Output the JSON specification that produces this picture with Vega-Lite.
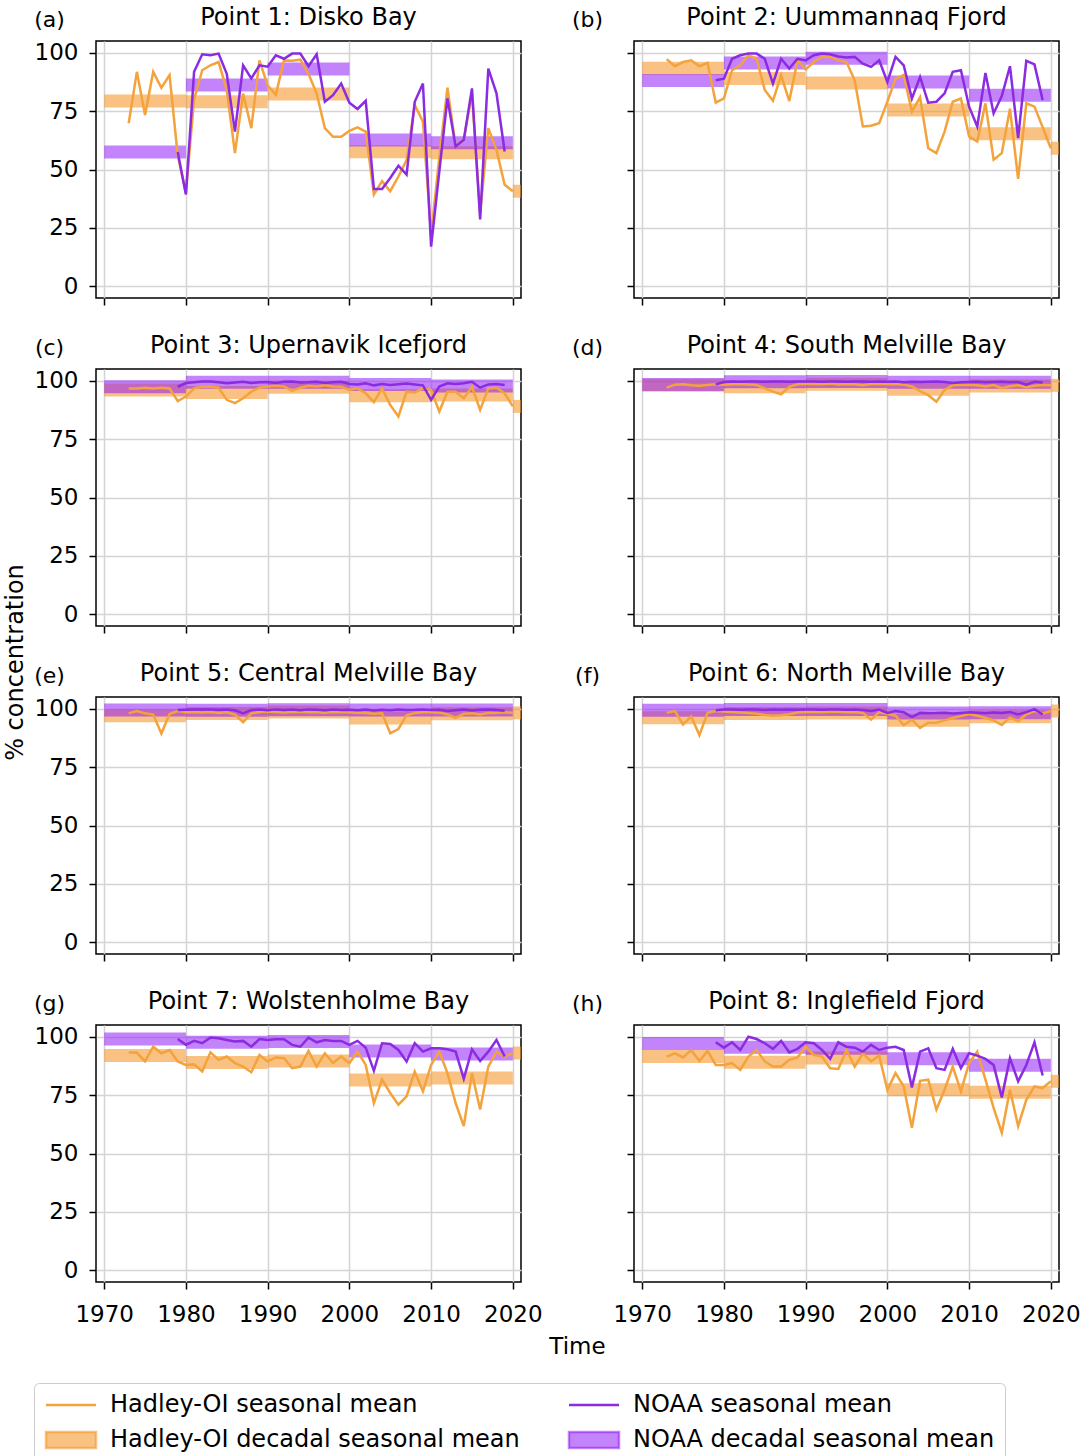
{
"$schema": "https://vega.github.io/schema/vega-lite/v6.json",
"background": "white",
"padding": {"left": 2, "top": 5, "right": 5, "bottom": 0},
"datasets": {
"hadley": [
{"panel":"a","year":1973,"value":69.8},{"panel":"a","year":1974,"value":91.8},{"panel":"a","year":1975,"value":73.3},{"panel":"a","year":1976,"value":91.8},{"panel":"a","year":1977,"value":85},{"panel":"a","year":1978,"value":90.4},{"panel":"a","year":1979,"value":56},{"panel":"a","year":1980,"value":40},{"panel":"a","year":1981,"value":80},{"panel":"a","year":1982,"value":92.5},{"panel":"a","year":1983,"value":94.6},{"panel":"a","year":1984,"value":96},{"panel":"a","year":1985,"value":84},{"panel":"a","year":1986,"value":57},{"panel":"a","year":1987,"value":82.5},{"panel":"a","year":1988,"value":67.7},{"panel":"a","year":1989,"value":96.7},{"panel":"a","year":1990,"value":86},{"panel":"a","year":1991,"value":82},{"panel":"a","year":1992,"value":96.7},{"panel":"a","year":1993,"value":96.5},{"panel":"a","year":1994,"value":97},{"panel":"a","year":1995,"value":91},{"panel":"a","year":1996,"value":82.5},{"panel":"a","year":1997,"value":67.7},{"panel":"a","year":1998,"value":64},{"panel":"a","year":1999,"value":64},{"panel":"a","year":2000,"value":66.5},{"panel":"a","year":2001,"value":68},{"panel":"a","year":2002,"value":66.2},{"panel":"a","year":2003,"value":39.3},{"panel":"a","year":2004,"value":45},{"panel":"a","year":2005,"value":40.7},{"panel":"a","year":2006,"value":47},{"panel":"a","year":2007,"value":54},{"panel":"a","year":2008,"value":77.6},{"panel":"a","year":2009,"value":70.5},{"panel":"a","year":2010,"value":22},{"panel":"a","year":2011,"value":55},{"panel":"a","year":2012,"value":85},{"panel":"a","year":2013,"value":60},{"panel":"a","year":2014,"value":62.7},{"panel":"a","year":2015,"value":82.6},{"panel":"a","year":2016,"value":31},{"panel":"a","year":2017,"value":67.7},{"panel":"a","year":2018,"value":58.4},{"panel":"a","year":2019,"value":43.5},{"panel":"a","year":2020,"value":40.7},
{"panel":"b","year":1973,"value":97.2},{"panel":"b","year":1974,"value":94.2},{"panel":"b","year":1975,"value":96},{"panel":"b","year":1976,"value":96.7},{"panel":"b","year":1977,"value":94.2},{"panel":"b","year":1978,"value":95.6},{"panel":"b","year":1979,"value":78.6},{"panel":"b","year":1980,"value":80.4},{"panel":"b","year":1981,"value":92.5},{"panel":"b","year":1982,"value":94.6},{"panel":"b","year":1983,"value":98.9},{"panel":"b","year":1984,"value":97.4},{"panel":"b","year":1985,"value":84},{"panel":"b","year":1986,"value":79.4},{"panel":"b","year":1987,"value":90.4},{"panel":"b","year":1988,"value":79.3},{"panel":"b","year":1989,"value":96.7},{"panel":"b","year":1990,"value":92.8},{"panel":"b","year":1991,"value":96},{"panel":"b","year":1992,"value":98.2},{"panel":"b","year":1993,"value":98.2},{"panel":"b","year":1994,"value":96.7},{"panel":"b","year":1995,"value":96},{"panel":"b","year":1996,"value":88.2},{"panel":"b","year":1997,"value":68.4},{"panel":"b","year":1998,"value":68.7},{"panel":"b","year":1999,"value":69.8},{"panel":"b","year":2000,"value":79},{"panel":"b","year":2001,"value":88.9},{"panel":"b","year":2002,"value":90.4},{"panel":"b","year":2003,"value":74.8},{"panel":"b","year":2004,"value":80.9},{"panel":"b","year":2005,"value":59.1},{"panel":"b","year":2006,"value":57},{"panel":"b","year":2007,"value":66.2},{"panel":"b","year":2008,"value":79},{"panel":"b","year":2009,"value":80.4},{"panel":"b","year":2010,"value":64.1},{"panel":"b","year":2011,"value":62},{"panel":"b","year":2012,"value":78.3},{"panel":"b","year":2013,"value":54.2},{"panel":"b","year":2014,"value":57},{"panel":"b","year":2015,"value":76},{"panel":"b","year":2016,"value":46},{"panel":"b","year":2017,"value":78.3},{"panel":"b","year":2018,"value":76.9},{"panel":"b","year":2019,"value":68.1},{"panel":"b","year":2020,"value":59.1},
{"panel":"c","year":1973,"value":96.7},{"panel":"c","year":1974,"value":96.7},{"panel":"c","year":1975,"value":97},{"panel":"c","year":1976,"value":96.7},{"panel":"c","year":1977,"value":97},{"panel":"c","year":1978,"value":96.7},{"panel":"c","year":1979,"value":91.3},{"panel":"c","year":1980,"value":93.2},{"panel":"c","year":1981,"value":96.7},{"panel":"c","year":1982,"value":97.4},{"panel":"c","year":1983,"value":97.4},{"panel":"c","year":1984,"value":97},{"panel":"c","year":1985,"value":91.8},{"panel":"c","year":1986,"value":90.4},{"panel":"c","year":1987,"value":92.5},{"panel":"c","year":1988,"value":95.3},{"panel":"c","year":1989,"value":97},{"panel":"c","year":1990,"value":97.5},{"panel":"c","year":1991,"value":97.8},{"panel":"c","year":1992,"value":97.5},{"panel":"c","year":1993,"value":95.6},{"panel":"c","year":1994,"value":97},{"panel":"c","year":1995,"value":97.8},{"panel":"c","year":1996,"value":97.5},{"panel":"c","year":1997,"value":98},{"panel":"c","year":1998,"value":97.5},{"panel":"c","year":1999,"value":97.4},{"panel":"c","year":2000,"value":96},{"panel":"c","year":2001,"value":96.7},{"panel":"c","year":2002,"value":94.6},{"panel":"c","year":2003,"value":90.8},{"panel":"c","year":2004,"value":96.7},{"panel":"c","year":2005,"value":89.6},{"panel":"c","year":2006,"value":84.7},{"panel":"c","year":2007,"value":95.3},{"panel":"c","year":2008,"value":95},{"panel":"c","year":2009,"value":96.7},{"panel":"c","year":2010,"value":96},{"panel":"c","year":2011,"value":86.8},{"panel":"c","year":2012,"value":95.3},{"panel":"c","year":2013,"value":95.3},{"panel":"c","year":2014,"value":92.5},{"panel":"c","year":2015,"value":97.4},{"panel":"c","year":2016,"value":87.5},{"panel":"c","year":2017,"value":96.7},{"panel":"c","year":2018,"value":97},{"panel":"c","year":2019,"value":94.6},{"panel":"c","year":2020,"value":89},
{"panel":"d","year":1973,"value":97},{"panel":"d","year":1974,"value":98.3},{"panel":"d","year":1975,"value":98.5},{"panel":"d","year":1976,"value":98},{"panel":"d","year":1977,"value":97.8},{"panel":"d","year":1978,"value":98.2},{"panel":"d","year":1979,"value":98.5},{"panel":"d","year":1980,"value":98.3},{"panel":"d","year":1981,"value":98.5},{"panel":"d","year":1982,"value":98.6},{"panel":"d","year":1983,"value":98.4},{"panel":"d","year":1984,"value":98.2},{"panel":"d","year":1985,"value":96.7},{"panel":"d","year":1986,"value":95.3},{"panel":"d","year":1987,"value":94.2},{"panel":"d","year":1988,"value":97.4},{"panel":"d","year":1989,"value":98.5},{"panel":"d","year":1990,"value":98.6},{"panel":"d","year":1991,"value":98.7},{"panel":"d","year":1992,"value":98.5},{"panel":"d","year":1993,"value":98.8},{"panel":"d","year":1994,"value":98.4},{"panel":"d","year":1995,"value":98.6},{"panel":"d","year":1996,"value":98.5},{"panel":"d","year":1997,"value":98},{"panel":"d","year":1998,"value":98.6},{"panel":"d","year":1999,"value":98.7},{"panel":"d","year":2000,"value":98.5},{"panel":"d","year":2001,"value":98.6},{"panel":"d","year":2002,"value":98.3},{"panel":"d","year":2003,"value":97.5},{"panel":"d","year":2004,"value":95.5},{"panel":"d","year":2005,"value":93.8},{"panel":"d","year":2006,"value":91},{"panel":"d","year":2007,"value":96},{"panel":"d","year":2008,"value":98},{"panel":"d","year":2009,"value":98.2},{"panel":"d","year":2010,"value":98.2},{"panel":"d","year":2011,"value":98},{"panel":"d","year":2012,"value":97.5},{"panel":"d","year":2013,"value":98.1},{"panel":"d","year":2014,"value":96.8},{"panel":"d","year":2015,"value":97.6},{"panel":"d","year":2016,"value":98},{"panel":"d","year":2017,"value":97.2},{"panel":"d","year":2018,"value":97.8},{"panel":"d","year":2019,"value":98.2},{"panel":"d","year":2020,"value":98},
{"panel":"e","year":1973,"value":98},{"panel":"e","year":1974,"value":99},{"panel":"e","year":1975,"value":98},{"panel":"e","year":1976,"value":97.5},{"panel":"e","year":1977,"value":89.4},{"panel":"e","year":1978,"value":97.7},{"panel":"e","year":1979,"value":99},{"panel":"e","year":1980,"value":98.5},{"panel":"e","year":1981,"value":98.6},{"panel":"e","year":1982,"value":98.4},{"panel":"e","year":1983,"value":98.6},{"panel":"e","year":1984,"value":98.2},{"panel":"e","year":1985,"value":98.5},{"panel":"e","year":1986,"value":97.5},{"panel":"e","year":1987,"value":94.2},{"panel":"e","year":1988,"value":98},{"panel":"e","year":1989,"value":98.6},{"panel":"e","year":1990,"value":98.8},{"panel":"e","year":1991,"value":98.6},{"panel":"e","year":1992,"value":98.4},{"panel":"e","year":1993,"value":98.6},{"panel":"e","year":1994,"value":98.7},{"panel":"e","year":1995,"value":98.5},{"panel":"e","year":1996,"value":98.6},{"panel":"e","year":1997,"value":98.3},{"panel":"e","year":1998,"value":98.6},{"panel":"e","year":1999,"value":98.5},{"panel":"e","year":2000,"value":98.5},{"panel":"e","year":2001,"value":98.3},{"panel":"e","year":2002,"value":98.2},{"panel":"e","year":2003,"value":97.8},{"panel":"e","year":2004,"value":98},{"panel":"e","year":2005,"value":89.5},{"panel":"e","year":2006,"value":91.3},{"panel":"e","year":2007,"value":97.2},{"panel":"e","year":2008,"value":98.2},{"panel":"e","year":2009,"value":98.5},{"panel":"e","year":2010,"value":98.5},{"panel":"e","year":2011,"value":98.3},{"panel":"e","year":2012,"value":97.5},{"panel":"e","year":2013,"value":96.1},{"panel":"e","year":2014,"value":97.8},{"panel":"e","year":2015,"value":98},{"panel":"e","year":2016,"value":97.5},{"panel":"e","year":2017,"value":98.2},{"panel":"e","year":2018,"value":98.3},{"panel":"e","year":2019,"value":98.5},{"panel":"e","year":2020,"value":98.2},
{"panel":"f","year":1973,"value":98.2},{"panel":"f","year":1974,"value":99},{"panel":"f","year":1975,"value":93.2},{"panel":"f","year":1976,"value":96.7},{"panel":"f","year":1977,"value":88.7},{"panel":"f","year":1978,"value":98.2},{"panel":"f","year":1979,"value":99},{"panel":"f","year":1980,"value":98.8},{"panel":"f","year":1981,"value":98.6},{"panel":"f","year":1982,"value":98.4},{"panel":"f","year":1983,"value":98.2},{"panel":"f","year":1984,"value":97.8},{"panel":"f","year":1985,"value":97.3},{"panel":"f","year":1986,"value":97},{"panel":"f","year":1987,"value":97.2},{"panel":"f","year":1988,"value":97.6},{"panel":"f","year":1989,"value":98.4},{"panel":"f","year":1990,"value":98.6},{"panel":"f","year":1991,"value":98.7},{"panel":"f","year":1992,"value":98.5},{"panel":"f","year":1993,"value":98.8},{"panel":"f","year":1994,"value":98.7},{"panel":"f","year":1995,"value":98.5},{"panel":"f","year":1996,"value":98.6},{"panel":"f","year":1997,"value":98.2},{"panel":"f","year":1998,"value":95.3},{"panel":"f","year":1999,"value":98.5},{"panel":"f","year":2000,"value":97.8},{"panel":"f","year":2001,"value":97},{"panel":"f","year":2002,"value":93},{"panel":"f","year":2003,"value":95.3},{"panel":"f","year":2004,"value":91.8},{"panel":"f","year":2005,"value":94},{"panel":"f","year":2006,"value":94},{"panel":"f","year":2007,"value":95},{"panel":"f","year":2008,"value":96},{"panel":"f","year":2009,"value":96.8},{"panel":"f","year":2010,"value":97.7},{"panel":"f","year":2011,"value":97},{"panel":"f","year":2012,"value":96},{"panel":"f","year":2013,"value":95},{"panel":"f","year":2014,"value":93},{"panel":"f","year":2015,"value":96.2},{"panel":"f","year":2016,"value":94.6},{"panel":"f","year":2017,"value":97.6},{"panel":"f","year":2018,"value":99},{"panel":"f","year":2019,"value":98},{"panel":"f","year":2020,"value":99},
{"panel":"g","year":1973,"value":93.2},{"panel":"g","year":1974,"value":93.2},{"panel":"g","year":1975,"value":89.4},{"panel":"g","year":1976,"value":95.7},{"panel":"g","year":1977,"value":92.9},{"panel":"g","year":1978,"value":94.3},{"panel":"g","year":1979,"value":89.4},{"panel":"g","year":1980,"value":87.9},{"panel":"g","year":1981,"value":88.2},{"panel":"g","year":1982,"value":85.1},{"panel":"g","year":1983,"value":93.3},{"panel":"g","year":1984,"value":90.1},{"panel":"g","year":1985,"value":91.5},{"panel":"g","year":1986,"value":88.7},{"panel":"g","year":1987,"value":87.2},{"panel":"g","year":1988,"value":84.8},{"panel":"g","year":1989,"value":92.2},{"panel":"g","year":1990,"value":89.4},{"panel":"g","year":1991,"value":91.1},{"panel":"g","year":1992,"value":90.8},{"panel":"g","year":1993,"value":86.5},{"panel":"g","year":1994,"value":87.2},{"panel":"g","year":1995,"value":93.9},{"panel":"g","year":1996,"value":87.2},{"panel":"g","year":1997,"value":92.9},{"panel":"g","year":1998,"value":88.7},{"panel":"g","year":1999,"value":91.5},{"panel":"g","year":2000,"value":88.7},{"panel":"g","year":2001,"value":93.6},{"panel":"g","year":2002,"value":87.9},{"panel":"g","year":2003,"value":71.6},{"panel":"g","year":2004,"value":81.6},{"panel":"g","year":2005,"value":75.9},{"panel":"g","year":2006,"value":70.9},{"panel":"g","year":2007,"value":74.5},{"panel":"g","year":2008,"value":85.1},{"panel":"g","year":2009,"value":76.6},{"panel":"g","year":2010,"value":87.9},{"panel":"g","year":2011,"value":93.6},{"panel":"g","year":2012,"value":84.4},{"panel":"g","year":2013,"value":71.6},{"panel":"g","year":2014,"value":61.7},{"panel":"g","year":2015,"value":84.4},{"panel":"g","year":2016,"value":68.8},{"panel":"g","year":2017,"value":87.2},{"panel":"g","year":2018,"value":93.6},{"panel":"g","year":2019,"value":91.5},{"panel":"g","year":2020,"value":93},
{"panel":"h","year":1973,"value":91.5},{"panel":"h","year":1974,"value":92.9},{"panel":"h","year":1975,"value":91.1},{"panel":"h","year":1976,"value":94.3},{"panel":"h","year":1977,"value":89.6},{"panel":"h","year":1978,"value":93.9},{"panel":"h","year":1979,"value":87.9},{"panel":"h","year":1980,"value":87.9},{"panel":"h","year":1981,"value":88.7},{"panel":"h","year":1982,"value":85.8},{"panel":"h","year":1983,"value":91.5},{"panel":"h","year":1984,"value":94.3},{"panel":"h","year":1985,"value":89.4},{"panel":"h","year":1986,"value":87.2},{"panel":"h","year":1987,"value":87.2},{"panel":"h","year":1988,"value":90.1},{"panel":"h","year":1989,"value":91.1},{"panel":"h","year":1990,"value":95.7},{"panel":"h","year":1991,"value":92.2},{"panel":"h","year":1992,"value":91.5},{"panel":"h","year":1993,"value":86.5},{"panel":"h","year":1994,"value":86.2},{"panel":"h","year":1995,"value":94.3},{"panel":"h","year":1996,"value":87.2},{"panel":"h","year":1997,"value":92.9},{"panel":"h","year":1998,"value":89.4},{"panel":"h","year":1999,"value":91.9},{"panel":"h","year":2000,"value":77.3},{"panel":"h","year":2001,"value":84.4},{"panel":"h","year":2002,"value":78.7},{"panel":"h","year":2003,"value":61},{"panel":"h","year":2004,"value":81.1},{"panel":"h","year":2005,"value":81.6},{"panel":"h","year":2006,"value":68.8},{"panel":"h","year":2007,"value":77.3},{"panel":"h","year":2008,"value":87.2},{"panel":"h","year":2009,"value":76.6},{"panel":"h","year":2010,"value":88.7},{"panel":"h","year":2011,"value":93.6},{"panel":"h","year":2012,"value":81.6},{"panel":"h","year":2013,"value":69.5},{"panel":"h","year":2014,"value":58.9},{"panel":"h","year":2015,"value":77.3},{"panel":"h","year":2016,"value":61.7},{"panel":"h","year":2017,"value":73},{"panel":"h","year":2018,"value":78.7},{"panel":"h","year":2019,"value":78},{"panel":"h","year":2020,"value":80.9}
],
"noaa": [
{"panel":"a","year":1979,"value":57.5},{"panel":"a","year":1980,"value":39.3},{"panel":"a","year":1981,"value":91.8},{"panel":"a","year":1982,"value":99.3},{"panel":"a","year":1983,"value":98.9},{"panel":"a","year":1984,"value":99.6},{"panel":"a","year":1985,"value":91},{"panel":"a","year":1986,"value":66.2},{"panel":"a","year":1987,"value":94.6},{"panel":"a","year":1988,"value":89},{"panel":"a","year":1989,"value":94.6},{"panel":"a","year":1990,"value":94},{"panel":"a","year":1991,"value":98.9},{"panel":"a","year":1992,"value":97.4},{"panel":"a","year":1993,"value":99.6},{"panel":"a","year":1994,"value":99.6},{"panel":"a","year":1995,"value":94.2},{"panel":"a","year":1996,"value":99.3},{"panel":"a","year":1997,"value":79},{"panel":"a","year":1998,"value":81.8},{"panel":"a","year":1999,"value":86.8},{"panel":"a","year":2000,"value":78.6},{"panel":"a","year":2001,"value":75.9},{"panel":"a","year":2002,"value":79.4},{"panel":"a","year":2003,"value":41.7},{"panel":"a","year":2004,"value":41.7},{"panel":"a","year":2005,"value":46.4},{"panel":"a","year":2006,"value":51.6},{"panel":"a","year":2007,"value":47.8},{"panel":"a","year":2008,"value":79},{"panel":"a","year":2009,"value":86.8},{"panel":"a","year":2010,"value":17},{"panel":"a","year":2011,"value":49},{"panel":"a","year":2012,"value":80.4},{"panel":"a","year":2013,"value":59.9},{"panel":"a","year":2014,"value":62.7},{"panel":"a","year":2015,"value":84.7},{"panel":"a","year":2016,"value":28.6},{"panel":"a","year":2017,"value":93.2},{"panel":"a","year":2018,"value":82.6},{"panel":"a","year":2019,"value":57.7},
{"panel":"b","year":1979,"value":88.2},{"panel":"b","year":1980,"value":88.9},{"panel":"b","year":1981,"value":97.4},{"panel":"b","year":1982,"value":98.9},{"panel":"b","year":1983,"value":99.6},{"panel":"b","year":1984,"value":99.6},{"panel":"b","year":1985,"value":97.4},{"panel":"b","year":1986,"value":86.8},{"panel":"b","year":1987,"value":97.4},{"panel":"b","year":1988,"value":93.2},{"panel":"b","year":1989,"value":97.4},{"panel":"b","year":1990,"value":96.7},{"panel":"b","year":1991,"value":98.9},{"panel":"b","year":1992,"value":99.6},{"panel":"b","year":1993,"value":99.3},{"panel":"b","year":1994,"value":98.4},{"panel":"b","year":1995,"value":97.9},{"panel":"b","year":1996,"value":98.2},{"panel":"b","year":1997,"value":95.3},{"panel":"b","year":1998,"value":93.9},{"panel":"b","year":1999,"value":96.7},{"panel":"b","year":2000,"value":87.5},{"panel":"b","year":2001,"value":98.2},{"panel":"b","year":2002,"value":94.6},{"panel":"b","year":2003,"value":80.4},{"panel":"b","year":2004,"value":89.6},{"panel":"b","year":2005,"value":78.6},{"panel":"b","year":2006,"value":79},{"panel":"b","year":2007,"value":82.6},{"panel":"b","year":2008,"value":91.8},{"panel":"b","year":2009,"value":92.5},{"panel":"b","year":2010,"value":76.9},{"panel":"b","year":2011,"value":68.4},{"panel":"b","year":2012,"value":91.3},{"panel":"b","year":2013,"value":74},{"panel":"b","year":2014,"value":81.4},{"panel":"b","year":2015,"value":94.2},{"panel":"b","year":2016,"value":63.4},{"panel":"b","year":2017,"value":96.5},{"panel":"b","year":2018,"value":95},{"panel":"b","year":2019,"value":79.7},
{"panel":"c","year":1979,"value":97.4},{"panel":"c","year":1980,"value":99},{"panel":"c","year":1981,"value":99.3},{"panel":"c","year":1982,"value":99.6},{"panel":"c","year":1983,"value":99.6},{"panel":"c","year":1984,"value":99.3},{"panel":"c","year":1985,"value":98.9},{"panel":"c","year":1986,"value":99.2},{"panel":"c","year":1987,"value":99.5},{"panel":"c","year":1988,"value":99},{"panel":"c","year":1989,"value":99.3},{"panel":"c","year":1990,"value":99.4},{"panel":"c","year":1991,"value":99},{"panel":"c","year":1992,"value":99.5},{"panel":"c","year":1993,"value":99.6},{"panel":"c","year":1994,"value":99.2},{"panel":"c","year":1995,"value":99.3},{"panel":"c","year":1996,"value":99.5},{"panel":"c","year":1997,"value":99},{"panel":"c","year":1998,"value":99.3},{"panel":"c","year":1999,"value":99.5},{"panel":"c","year":2000,"value":98.6},{"panel":"c","year":2001,"value":98.4},{"panel":"c","year":2002,"value":98.9},{"panel":"c","year":2003,"value":98},{"panel":"c","year":2004,"value":98.6},{"panel":"c","year":2005,"value":98.2},{"panel":"c","year":2006,"value":98.5},{"panel":"c","year":2007,"value":98.8},{"panel":"c","year":2008,"value":98.4},{"panel":"c","year":2009,"value":98},{"panel":"c","year":2010,"value":91.8},{"panel":"c","year":2011,"value":97.5},{"panel":"c","year":2012,"value":98.9},{"panel":"c","year":2013,"value":98.6},{"panel":"c","year":2014,"value":98.9},{"panel":"c","year":2015,"value":99.5},{"panel":"c","year":2016,"value":97},{"panel":"c","year":2017,"value":98.4},{"panel":"c","year":2018,"value":98.6},{"panel":"c","year":2019,"value":98.2},
{"panel":"d","year":1979,"value":98.4},{"panel":"d","year":1980,"value":99.4},{"panel":"d","year":1981,"value":99.6},{"panel":"d","year":1982,"value":99.5},{"panel":"d","year":1983,"value":99.7},{"panel":"d","year":1984,"value":99.6},{"panel":"d","year":1985,"value":99.5},{"panel":"d","year":1986,"value":99.7},{"panel":"d","year":1987,"value":99.6},{"panel":"d","year":1988,"value":99.5},{"panel":"d","year":1989,"value":99.6},{"panel":"d","year":1990,"value":99.7},{"panel":"d","year":1991,"value":99.6},{"panel":"d","year":1992,"value":99.5},{"panel":"d","year":1993,"value":99.7},{"panel":"d","year":1994,"value":99.6},{"panel":"d","year":1995,"value":99.5},{"panel":"d","year":1996,"value":99.6},{"panel":"d","year":1997,"value":99.7},{"panel":"d","year":1998,"value":99.5},{"panel":"d","year":1999,"value":99.6},{"panel":"d","year":2000,"value":99.5},{"panel":"d","year":2001,"value":99.6},{"panel":"d","year":2002,"value":99.3},{"panel":"d","year":2003,"value":99.5},{"panel":"d","year":2004,"value":99.4},{"panel":"d","year":2005,"value":99.5},{"panel":"d","year":2006,"value":99.6},{"panel":"d","year":2007,"value":99.4},{"panel":"d","year":2008,"value":99},{"panel":"d","year":2009,"value":99.3},{"panel":"d","year":2010,"value":99.4},{"panel":"d","year":2011,"value":99.5},{"panel":"d","year":2012,"value":99.3},{"panel":"d","year":2013,"value":99.4},{"panel":"d","year":2014,"value":99.5},{"panel":"d","year":2015,"value":99.3},{"panel":"d","year":2016,"value":99.4},{"panel":"d","year":2017,"value":98.3},{"panel":"d","year":2018,"value":99.5},{"panel":"d","year":2019,"value":99.2},
{"panel":"e","year":1979,"value":99.4},{"panel":"e","year":1980,"value":99.5},{"panel":"e","year":1981,"value":99.6},{"panel":"e","year":1982,"value":99.7},{"panel":"e","year":1983,"value":99.6},{"panel":"e","year":1984,"value":99.5},{"panel":"e","year":1985,"value":99.6},{"panel":"e","year":1986,"value":99.3},{"panel":"e","year":1987,"value":98},{"panel":"e","year":1988,"value":99.4},{"panel":"e","year":1989,"value":99.6},{"panel":"e","year":1990,"value":99.3},{"panel":"e","year":1991,"value":99.7},{"panel":"e","year":1992,"value":99.4},{"panel":"e","year":1993,"value":99.6},{"panel":"e","year":1994,"value":99.3},{"panel":"e","year":1995,"value":99.7},{"panel":"e","year":1996,"value":99.5},{"panel":"e","year":1997,"value":99.3},{"panel":"e","year":1998,"value":99.6},{"panel":"e","year":1999,"value":99.4},{"panel":"e","year":2000,"value":99.5},{"panel":"e","year":2001,"value":99.3},{"panel":"e","year":2002,"value":99.6},{"panel":"e","year":2003,"value":99.2},{"panel":"e","year":2004,"value":99.5},{"panel":"e","year":2005,"value":99.3},{"panel":"e","year":2006,"value":99.6},{"panel":"e","year":2007,"value":99.4},{"panel":"e","year":2008,"value":99.5},{"panel":"e","year":2009,"value":99.7},{"panel":"e","year":2010,"value":99.4},{"panel":"e","year":2011,"value":99.5},{"panel":"e","year":2012,"value":99},{"panel":"e","year":2013,"value":99.3},{"panel":"e","year":2014,"value":99.6},{"panel":"e","year":2015,"value":99.2},{"panel":"e","year":2016,"value":99.5},{"panel":"e","year":2017,"value":99.6},{"panel":"e","year":2018,"value":99.4},{"panel":"e","year":2019,"value":99.1},
{"panel":"f","year":1979,"value":99.3},{"panel":"f","year":1980,"value":99.6},{"panel":"f","year":1981,"value":99.7},{"panel":"f","year":1982,"value":99.5},{"panel":"f","year":1983,"value":99.6},{"panel":"f","year":1984,"value":99.7},{"panel":"f","year":1985,"value":99.4},{"panel":"f","year":1986,"value":99.6},{"panel":"f","year":1987,"value":99.5},{"panel":"f","year":1988,"value":99.7},{"panel":"f","year":1989,"value":99.5},{"panel":"f","year":1990,"value":99.6},{"panel":"f","year":1991,"value":99.7},{"panel":"f","year":1992,"value":99.5},{"panel":"f","year":1993,"value":99.6},{"panel":"f","year":1994,"value":99.7},{"panel":"f","year":1995,"value":99.5},{"panel":"f","year":1996,"value":99.6},{"panel":"f","year":1997,"value":99.4},{"panel":"f","year":1998,"value":99},{"panel":"f","year":1999,"value":99.6},{"panel":"f","year":2000,"value":98.2},{"panel":"f","year":2001,"value":99},{"panel":"f","year":2002,"value":98.5},{"panel":"f","year":2003,"value":96.4},{"panel":"f","year":2004,"value":98.2},{"panel":"f","year":2005,"value":98},{"panel":"f","year":2006,"value":98.1},{"panel":"f","year":2007,"value":98.3},{"panel":"f","year":2008,"value":97.9},{"panel":"f","year":2009,"value":98.2},{"panel":"f","year":2010,"value":98.5},{"panel":"f","year":2011,"value":98.3},{"panel":"f","year":2012,"value":98},{"panel":"f","year":2013,"value":98.4},{"panel":"f","year":2014,"value":98.2},{"panel":"f","year":2015,"value":98.6},{"panel":"f","year":2016,"value":97.5},{"panel":"f","year":2017,"value":98.5},{"panel":"f","year":2018,"value":99.8},{"panel":"f","year":2019,"value":97.5},
{"panel":"g","year":1979,"value":99},{"panel":"g","year":1980,"value":96.5},{"panel":"g","year":1981,"value":98.2},{"panel":"g","year":1982,"value":97.2},{"panel":"g","year":1983,"value":99.6},{"panel":"g","year":1984,"value":99.3},{"panel":"g","year":1985,"value":98.6},{"panel":"g","year":1986,"value":97.9},{"panel":"g","year":1987,"value":98.2},{"panel":"g","year":1988,"value":95.7},{"panel":"g","year":1989,"value":99},{"panel":"g","year":1990,"value":98.6},{"panel":"g","year":1991,"value":98.9},{"panel":"g","year":1992,"value":98.9},{"panel":"g","year":1993,"value":96.5},{"panel":"g","year":1994,"value":95.7},{"panel":"g","year":1995,"value":99.6},{"panel":"g","year":1996,"value":97.6},{"panel":"g","year":1997,"value":98.6},{"panel":"g","year":1998,"value":98.2},{"panel":"g","year":1999,"value":98.2},{"panel":"g","year":2000,"value":96.5},{"panel":"g","year":2001,"value":98.2},{"panel":"g","year":2002,"value":95.3},{"panel":"g","year":2003,"value":85.4},{"panel":"g","year":2004,"value":97.2},{"panel":"g","year":2005,"value":96.9},{"panel":"g","year":2006,"value":94.3},{"panel":"g","year":2007,"value":89.4},{"panel":"g","year":2008,"value":97.2},{"panel":"g","year":2009,"value":93.6},{"panel":"g","year":2010,"value":95},{"panel":"g","year":2011,"value":95},{"panel":"g","year":2012,"value":94.6},{"panel":"g","year":2013,"value":93.6},{"panel":"g","year":2014,"value":82},{"panel":"g","year":2015,"value":94.6},{"panel":"g","year":2016,"value":89.6},{"panel":"g","year":2017,"value":93.6},{"panel":"g","year":2018,"value":98.6},{"panel":"g","year":2019,"value":91.5},
{"panel":"h","year":1979,"value":97.6},{"panel":"h","year":1980,"value":95.3},{"panel":"h","year":1981,"value":97.6},{"panel":"h","year":1982,"value":94.3},{"panel":"h","year":1983,"value":100},{"panel":"h","year":1984,"value":99},{"panel":"h","year":1985,"value":97.2},{"panel":"h","year":1986,"value":94.8},{"panel":"h","year":1987,"value":98.2},{"panel":"h","year":1988,"value":93.3},{"panel":"h","year":1989,"value":94.8},{"panel":"h","year":1990,"value":97.6},{"panel":"h","year":1991,"value":97.2},{"panel":"h","year":1992,"value":94.3},{"panel":"h","year":1993,"value":90.5},{"panel":"h","year":1994,"value":97.6},{"panel":"h","year":1995,"value":95.7},{"panel":"h","year":1996,"value":95.3},{"panel":"h","year":1997,"value":93.6},{"panel":"h","year":1998,"value":96.5},{"panel":"h","year":1999,"value":94.3},{"panel":"h","year":2000,"value":95.3},{"panel":"h","year":2001,"value":95.7},{"panel":"h","year":2002,"value":94.3},{"panel":"h","year":2003,"value":78.3},{"panel":"h","year":2004,"value":93.6},{"panel":"h","year":2005,"value":95},{"panel":"h","year":2006,"value":86.5},{"panel":"h","year":2007,"value":85.8},{"panel":"h","year":2008,"value":94.8},{"panel":"h","year":2009,"value":86.5},{"panel":"h","year":2010,"value":92.9},{"panel":"h","year":2011,"value":91.9},{"panel":"h","year":2012,"value":90.5},{"panel":"h","year":2013,"value":87.9},{"panel":"h","year":2014,"value":74},{"panel":"h","year":2015,"value":90.8},{"panel":"h","year":2016,"value":80.9},{"panel":"h","year":2017,"value":87.9},{"panel":"h","year":2018,"value":97.6},{"panel":"h","year":2019,"value":83.4}
],
"hadley_dec": [
{"panel":"a","start":1970,"end":1980,"value":79.3},{"panel":"a","start":1980,"end":1990,"value":79},{"panel":"a","start":1990,"end":2000,"value":82.3},{"panel":"a","start":2000,"end":2010,"value":57.6},{"panel":"a","start":2010,"end":2020,"value":57.2},{"panel":"a","start":2020,"end":2021,"value":40.7},
{"panel":"b","start":1970,"end":1980,"value":93.3},{"panel":"b","start":1980,"end":1990,"value":88.9},{"panel":"b","start":1990,"end":2000,"value":87},{"panel":"b","start":2000,"end":2010,"value":75.5},{"panel":"b","start":2010,"end":2020,"value":65.3},{"panel":"b","start":2020,"end":2021,"value":59.1},
{"panel":"c","start":1970,"end":1980,"value":96},{"panel":"c","start":1980,"end":1990,"value":94.9},{"panel":"c","start":1990,"end":2000,"value":97.2},{"panel":"c","start":2000,"end":2010,"value":93.6},{"panel":"c","start":2010,"end":2020,"value":93.9},{"panel":"c","start":2020,"end":2021,"value":89},
{"panel":"d","start":1970,"end":1980,"value":98},{"panel":"d","start":1980,"end":1990,"value":97.4},{"panel":"d","start":1990,"end":2000,"value":98.5},{"panel":"d","start":2000,"end":2010,"value":96.3},{"panel":"d","start":2010,"end":2020,"value":97.7},{"panel":"d","start":2020,"end":2021,"value":98},
{"panel":"e","start":1970,"end":1980,"value":97},{"panel":"e","start":1980,"end":1990,"value":97.9},{"panel":"e","start":1990,"end":2000,"value":98.6},{"panel":"e","start":2000,"end":2010,"value":96},{"panel":"e","start":2010,"end":2020,"value":97.8},{"panel":"e","start":2020,"end":2021,"value":98.2},
{"panel":"f","start":1970,"end":1980,"value":96.1},{"panel":"f","start":1980,"end":1990,"value":97.9},{"panel":"f","start":1990,"end":2000,"value":98.2},{"panel":"f","start":2000,"end":2010,"value":95.1},{"panel":"f","start":2010,"end":2020,"value":96.5},{"panel":"f","start":2020,"end":2021,"value":99},
{"panel":"g","start":1970,"end":1980,"value":91.9},{"panel":"g","start":1980,"end":1990,"value":88.9},{"panel":"g","start":1990,"end":2000,"value":89.6},{"panel":"g","start":2000,"end":2010,"value":81.5},{"panel":"g","start":2010,"end":2020,"value":82.3},{"panel":"g","start":2020,"end":2021,"value":93},
{"panel":"h","start":1970,"end":1980,"value":91.5},{"panel":"h","start":1980,"end":1990,"value":89.1},{"panel":"h","start":1990,"end":2000,"value":90.9},{"panel":"h","start":2000,"end":2010,"value":77.3},{"panel":"h","start":2010,"end":2020,"value":76.2},{"panel":"h","start":2020,"end":2021,"value":80.9}
],
"noaa_dec": [
{"panel":"a","start":1970,"end":1980,"value":57.5},{"panel":"a","start":1980,"end":1990,"value":86.2},{"panel":"a","start":1990,"end":2000,"value":93},{"panel":"a","start":2000,"end":2010,"value":62.6},{"panel":"a","start":2010,"end":2020,"value":61.5},
{"panel":"b","start":1970,"end":1980,"value":88.1},{"panel":"b","start":1980,"end":1990,"value":95.6},{"panel":"b","start":1990,"end":2000,"value":97.6},{"panel":"b","start":2000,"end":2010,"value":87.5},{"panel":"b","start":2010,"end":2020,"value":81.8},
{"panel":"c","start":1970,"end":1980,"value":97.4},{"panel":"c","start":1980,"end":1990,"value":99.3},{"panel":"c","start":1990,"end":2000,"value":99.3},{"panel":"c","start":2000,"end":2010,"value":98.4},{"panel":"c","start":2010,"end":2020,"value":97.7},
{"panel":"d","start":1970,"end":1980,"value":98.4},{"panel":"d","start":1980,"end":1990,"value":99.5},{"panel":"d","start":1990,"end":2000,"value":99.6},{"panel":"d","start":2000,"end":2010,"value":99.3},{"panel":"d","start":2010,"end":2020,"value":99.3},
{"panel":"e","start":1970,"end":1980,"value":99.4},{"panel":"e","start":1980,"end":1990,"value":99.3},{"panel":"e","start":1990,"end":2000,"value":99.5},{"panel":"e","start":2000,"end":2010,"value":99.4},{"panel":"e","start":2010,"end":2020,"value":99.4},
{"panel":"f","start":1970,"end":1980,"value":99.3},{"panel":"f","start":1980,"end":1990,"value":99.6},{"panel":"f","start":1990,"end":2000,"value":99.6},{"panel":"f","start":2000,"end":2010,"value":98.2},{"panel":"f","start":2010,"end":2020,"value":98.3},
{"panel":"g","start":1970,"end":1980,"value":99},{"panel":"g","start":1980,"end":1990,"value":97.6},{"panel":"g","start":1990,"end":2000,"value":97.9},{"panel":"g","start":2000,"end":2010,"value":93.9},{"panel":"g","start":2010,"end":2020,"value":92.6},
{"panel":"h","start":1970,"end":1980,"value":97.1},{"panel":"h","start":1980,"end":1990,"value":95.5},{"panel":"h","start":1990,"end":2000,"value":95.1},{"panel":"h","start":2000,"end":2010,"value":90.6},{"panel":"h","start":2010,"end":2020,"value":87.8}
]
},
"columns": 2,
"spacing": {"row": 71, "column": 113},
"bounds": "flush",
"concat": [
{"width": 425, "height": 257, "title": {"text": "Point 1: Disko Bay"}, "layer": [
{"data": {"name": "hadley_dec"}, "transform": [{"filter": "datum.panel === 'a'"}], "mark": {"type": "rule", "strokeWidth": 13, "strokeCap": "butt"}, "encoding": {
"x": {"field": "start", "type": "quantitative", "scale": {"domain": [1969, 2021], "nice": false, "zero": false}, "axis": {"values": [1970, 1980, 1990, 2000, 2010, 2020], "labels": false, "title": null}},
"x2": {"field": "end"},
"y": {"field": "value", "type": "quantitative", "scale": {"domain": [-5, 105], "nice": false, "zero": false}, "axis": {"values": [0, 25, 50, 75, 100], "title": "(a)", "titleAngle": 0, "titleX": -47, "titleY": -22, "titleAlign": "center", "titleBaseline": "middle"}},
"color": {"datum": "Hadley-OI decadal seasonal mean", "scale": {"domain": ["Hadley-OI seasonal mean", "NOAA seasonal mean", "Hadley-OI decadal seasonal mean", "NOAA decadal seasonal mean"], "range": ["#f4a23b", "#8b2be2", "rgba(247,150,40,0.58)", "rgba(145,30,245,0.55)"]},
 "legend": {"title": null, "orient": "none", "legendX": -62, "legendY": 1342, "direction": "horizontal", "columns": 2, "columnPadding": 44, "rowPadding": 10, "padding": 10, "strokeColor": "#cccccc", "cornerRadius": 5, "fillColor": "white", "labelFontSize": 24, "labelFont": "DejaVu Sans", "labelColor": "black", "labelLimit": 0, "labelOffset": 42, "symbolSize": 400, "symbolStrokeWidth": 2.5,
  "encoding": {"symbols": {
   "shape": {"condition": {"test": "indexof(datum.value, 'decadal') >= 0", "value": "M-1,-0.8H4V0.8H-1Z"}, "value": "M-1,0H4"},
   "fill": {"condition": [{"test": "datum.value === 'Hadley-OI decadal seasonal mean'", "value": "rgba(247,150,40,0.58)"}, {"test": "datum.value === 'NOAA decadal seasonal mean'", "value": "rgba(145,30,245,0.55)"}], "value": "transparent"},
   "stroke": {"condition": [{"test": "datum.value === 'Hadley-OI seasonal mean'", "value": "#f4a23b"}, {"test": "datum.value === 'NOAA seasonal mean'", "value": "#8b2be2"}], "value": "transparent"},
   "strokeWidth": {"value": 2.5},
   "opacity": {"value": 1}
  }}}}
}},
{"data": {"name": "noaa_dec"}, "transform": [{"filter": "datum.panel === 'a'"}], "mark": {"type": "rule", "strokeWidth": 13, "strokeCap": "butt"}, "encoding": {"x": {"field": "start", "type": "quantitative"}, "x2": {"field": "end"}, "y": {"field": "value", "type": "quantitative"}, "color": {"datum": "NOAA decadal seasonal mean"}}},
{"data": {"name": "hadley"}, "transform": [{"filter": "datum.panel === 'a'"}], "mark": {"type": "line", "strokeWidth": 2.5}, "encoding": {"x": {"field": "year", "type": "quantitative"}, "y": {"field": "value", "type": "quantitative"}, "color": {"datum": "Hadley-OI seasonal mean"}}},
{"data": {"name": "noaa"}, "transform": [{"filter": "datum.panel === 'a'"}], "mark": {"type": "line", "strokeWidth": 2.5}, "encoding": {"x": {"field": "year", "type": "quantitative"}, "y": {"field": "value", "type": "quantitative"}, "color": {"datum": "NOAA seasonal mean"}}}
]},
{"width": 425, "height": 257, "title": {"text": "Point 2: Uummannaq Fjord"}, "layer": [
{"data": {"name": "hadley_dec"}, "transform": [{"filter": "datum.panel === 'b'"}], "mark": {"type": "rule", "strokeWidth": 13, "strokeCap": "butt"}, "encoding": {
"x": {"field": "start", "type": "quantitative", "scale": {"domain": [1969, 2021], "nice": false, "zero": false}, "axis": {"values": [1970, 1980, 1990, 2000, 2010, 2020], "labels": false, "title": null}},
"x2": {"field": "end"},
"y": {"field": "value", "type": "quantitative", "scale": {"domain": [-5, 105], "nice": false, "zero": false}, "axis": {"values": [0, 25, 50, 75, 100], "labels": false, "title": "(b)", "titleAngle": 0, "titleX": -47, "titleY": -22, "titleAlign": "center", "titleBaseline": "middle"}},
"color": {"datum": "Hadley-OI decadal seasonal mean"}}},
{"data": {"name": "noaa_dec"}, "transform": [{"filter": "datum.panel === 'b'"}], "mark": {"type": "rule", "strokeWidth": 13, "strokeCap": "butt"}, "encoding": {"x": {"field": "start", "type": "quantitative"}, "x2": {"field": "end"}, "y": {"field": "value", "type": "quantitative"}, "color": {"datum": "NOAA decadal seasonal mean"}}},
{"data": {"name": "hadley"}, "transform": [{"filter": "datum.panel === 'b'"}], "mark": {"type": "line", "strokeWidth": 2.5}, "encoding": {"x": {"field": "year", "type": "quantitative"}, "y": {"field": "value", "type": "quantitative"}, "color": {"datum": "Hadley-OI seasonal mean"}}},
{"data": {"name": "noaa"}, "transform": [{"filter": "datum.panel === 'b'"}], "mark": {"type": "line", "strokeWidth": 2.5}, "encoding": {"x": {"field": "year", "type": "quantitative"}, "y": {"field": "value", "type": "quantitative"}, "color": {"datum": "NOAA seasonal mean"}}}
]},
{"width": 425, "height": 257, "title": {"text": "Point 3: Upernavik Icefjord"}, "layer": [
{"data": {"name": "hadley_dec"}, "transform": [{"filter": "datum.panel === 'c'"}], "mark": {"type": "rule", "strokeWidth": 13, "strokeCap": "butt"}, "encoding": {
"x": {"field": "start", "type": "quantitative", "scale": {"domain": [1969, 2021], "nice": false, "zero": false}, "axis": {"values": [1970, 1980, 1990, 2000, 2010, 2020], "labels": false, "title": "(c)", "titleAngle": 0, "titleX": -47, "titleY": -279, "titleAlign": "center", "titleBaseline": "middle"}},
"x2": {"field": "end"},
"y": {"field": "value", "type": "quantitative", "scale": {"domain": [-5, 105], "nice": false, "zero": false}, "axis": {"values": [0, 25, 50, 75, 100], "title": "% concentration", "titleFontSize": 24, "titleAngle": -90, "titleX": -81, "titleY": 293, "titleAlign": "center", "titleBaseline": "middle"}},
"color": {"datum": "Hadley-OI decadal seasonal mean"}}},
{"data": {"name": "noaa_dec"}, "transform": [{"filter": "datum.panel === 'c'"}], "mark": {"type": "rule", "strokeWidth": 13, "strokeCap": "butt"}, "encoding": {"x": {"field": "start", "type": "quantitative"}, "x2": {"field": "end"}, "y": {"field": "value", "type": "quantitative"}, "color": {"datum": "NOAA decadal seasonal mean"}}},
{"data": {"name": "hadley"}, "transform": [{"filter": "datum.panel === 'c'"}], "mark": {"type": "line", "strokeWidth": 2.5}, "encoding": {"x": {"field": "year", "type": "quantitative"}, "y": {"field": "value", "type": "quantitative"}, "color": {"datum": "Hadley-OI seasonal mean"}}},
{"data": {"name": "noaa"}, "transform": [{"filter": "datum.panel === 'c'"}], "mark": {"type": "line", "strokeWidth": 2.5}, "encoding": {"x": {"field": "year", "type": "quantitative"}, "y": {"field": "value", "type": "quantitative"}, "color": {"datum": "NOAA seasonal mean"}}}
]},
{"width": 425, "height": 257, "title": {"text": "Point 4: South Melville Bay"}, "layer": [
{"data": {"name": "hadley_dec"}, "transform": [{"filter": "datum.panel === 'd'"}], "mark": {"type": "rule", "strokeWidth": 13, "strokeCap": "butt"}, "encoding": {
"x": {"field": "start", "type": "quantitative", "scale": {"domain": [1969, 2021], "nice": false, "zero": false}, "axis": {"values": [1970, 1980, 1990, 2000, 2010, 2020], "labels": false, "title": null}},
"x2": {"field": "end"},
"y": {"field": "value", "type": "quantitative", "scale": {"domain": [-5, 105], "nice": false, "zero": false}, "axis": {"values": [0, 25, 50, 75, 100], "labels": false, "title": "(d)", "titleAngle": 0, "titleX": -47, "titleY": -22, "titleAlign": "center", "titleBaseline": "middle"}},
"color": {"datum": "Hadley-OI decadal seasonal mean"}}},
{"data": {"name": "noaa_dec"}, "transform": [{"filter": "datum.panel === 'd'"}], "mark": {"type": "rule", "strokeWidth": 13, "strokeCap": "butt"}, "encoding": {"x": {"field": "start", "type": "quantitative"}, "x2": {"field": "end"}, "y": {"field": "value", "type": "quantitative"}, "color": {"datum": "NOAA decadal seasonal mean"}}},
{"data": {"name": "hadley"}, "transform": [{"filter": "datum.panel === 'd'"}], "mark": {"type": "line", "strokeWidth": 2.5}, "encoding": {"x": {"field": "year", "type": "quantitative"}, "y": {"field": "value", "type": "quantitative"}, "color": {"datum": "Hadley-OI seasonal mean"}}},
{"data": {"name": "noaa"}, "transform": [{"filter": "datum.panel === 'd'"}], "mark": {"type": "line", "strokeWidth": 2.5}, "encoding": {"x": {"field": "year", "type": "quantitative"}, "y": {"field": "value", "type": "quantitative"}, "color": {"datum": "NOAA seasonal mean"}}}
]},
{"width": 425, "height": 257, "title": {"text": "Point 5: Central Melville Bay"}, "layer": [
{"data": {"name": "hadley_dec"}, "transform": [{"filter": "datum.panel === 'e'"}], "mark": {"type": "rule", "strokeWidth": 13, "strokeCap": "butt"}, "encoding": {
"x": {"field": "start", "type": "quantitative", "scale": {"domain": [1969, 2021], "nice": false, "zero": false}, "axis": {"values": [1970, 1980, 1990, 2000, 2010, 2020], "labels": false, "title": null}},
"x2": {"field": "end"},
"y": {"field": "value", "type": "quantitative", "scale": {"domain": [-5, 105], "nice": false, "zero": false}, "axis": {"values": [0, 25, 50, 75, 100], "title": "(e)", "titleAngle": 0, "titleX": -47, "titleY": -22, "titleAlign": "center", "titleBaseline": "middle"}},
"color": {"datum": "Hadley-OI decadal seasonal mean"}}},
{"data": {"name": "noaa_dec"}, "transform": [{"filter": "datum.panel === 'e'"}], "mark": {"type": "rule", "strokeWidth": 13, "strokeCap": "butt"}, "encoding": {"x": {"field": "start", "type": "quantitative"}, "x2": {"field": "end"}, "y": {"field": "value", "type": "quantitative"}, "color": {"datum": "NOAA decadal seasonal mean"}}},
{"data": {"name": "hadley"}, "transform": [{"filter": "datum.panel === 'e'"}], "mark": {"type": "line", "strokeWidth": 2.5}, "encoding": {"x": {"field": "year", "type": "quantitative"}, "y": {"field": "value", "type": "quantitative"}, "color": {"datum": "Hadley-OI seasonal mean"}}},
{"data": {"name": "noaa"}, "transform": [{"filter": "datum.panel === 'e'"}], "mark": {"type": "line", "strokeWidth": 2.5}, "encoding": {"x": {"field": "year", "type": "quantitative"}, "y": {"field": "value", "type": "quantitative"}, "color": {"datum": "NOAA seasonal mean"}}}
]},
{"width": 425, "height": 257, "title": {"text": "Point 6: North Melville Bay"}, "layer": [
{"data": {"name": "hadley_dec"}, "transform": [{"filter": "datum.panel === 'f'"}], "mark": {"type": "rule", "strokeWidth": 13, "strokeCap": "butt"}, "encoding": {
"x": {"field": "start", "type": "quantitative", "scale": {"domain": [1969, 2021], "nice": false, "zero": false}, "axis": {"values": [1970, 1980, 1990, 2000, 2010, 2020], "labels": false, "title": null}},
"x2": {"field": "end"},
"y": {"field": "value", "type": "quantitative", "scale": {"domain": [-5, 105], "nice": false, "zero": false}, "axis": {"values": [0, 25, 50, 75, 100], "labels": false, "title": "(f)", "titleAngle": 0, "titleX": -47, "titleY": -22, "titleAlign": "center", "titleBaseline": "middle"}},
"color": {"datum": "Hadley-OI decadal seasonal mean"}}},
{"data": {"name": "noaa_dec"}, "transform": [{"filter": "datum.panel === 'f'"}], "mark": {"type": "rule", "strokeWidth": 13, "strokeCap": "butt"}, "encoding": {"x": {"field": "start", "type": "quantitative"}, "x2": {"field": "end"}, "y": {"field": "value", "type": "quantitative"}, "color": {"datum": "NOAA decadal seasonal mean"}}},
{"data": {"name": "hadley"}, "transform": [{"filter": "datum.panel === 'f'"}], "mark": {"type": "line", "strokeWidth": 2.5}, "encoding": {"x": {"field": "year", "type": "quantitative"}, "y": {"field": "value", "type": "quantitative"}, "color": {"datum": "Hadley-OI seasonal mean"}}},
{"data": {"name": "noaa"}, "transform": [{"filter": "datum.panel === 'f'"}], "mark": {"type": "line", "strokeWidth": 2.5}, "encoding": {"x": {"field": "year", "type": "quantitative"}, "y": {"field": "value", "type": "quantitative"}, "color": {"datum": "NOAA seasonal mean"}}}
]},
{"width": 425, "height": 257, "title": {"text": "Point 7: Wolstenholme Bay"}, "layer": [
{"data": {"name": "hadley_dec"}, "transform": [{"filter": "datum.panel === 'g'"}], "mark": {"type": "rule", "strokeWidth": 13, "strokeCap": "butt"}, "encoding": {
"x": {"field": "start", "type": "quantitative", "scale": {"domain": [1969, 2021], "nice": false, "zero": false}, "axis": {"values": [1970, 1980, 1990, 2000, 2010, 2020], "format": "d", "labelPadding": 14, "title": "Time", "titleFontSize": 23, "titleX": 481, "titleY": 64, "titleAlign": "center", "titleBaseline": "middle"}},
"x2": {"field": "end"},
"y": {"field": "value", "type": "quantitative", "scale": {"domain": [-5, 105], "nice": false, "zero": false}, "axis": {"values": [0, 25, 50, 75, 100], "title": "(g)", "titleAngle": 0, "titleX": -47, "titleY": -22, "titleAlign": "center", "titleBaseline": "middle"}},
"color": {"datum": "Hadley-OI decadal seasonal mean"}}},
{"data": {"name": "noaa_dec"}, "transform": [{"filter": "datum.panel === 'g'"}], "mark": {"type": "rule", "strokeWidth": 13, "strokeCap": "butt"}, "encoding": {"x": {"field": "start", "type": "quantitative"}, "x2": {"field": "end"}, "y": {"field": "value", "type": "quantitative"}, "color": {"datum": "NOAA decadal seasonal mean"}}},
{"data": {"name": "hadley"}, "transform": [{"filter": "datum.panel === 'g'"}], "mark": {"type": "line", "strokeWidth": 2.5}, "encoding": {"x": {"field": "year", "type": "quantitative"}, "y": {"field": "value", "type": "quantitative"}, "color": {"datum": "Hadley-OI seasonal mean"}}},
{"data": {"name": "noaa"}, "transform": [{"filter": "datum.panel === 'g'"}], "mark": {"type": "line", "strokeWidth": 2.5}, "encoding": {"x": {"field": "year", "type": "quantitative"}, "y": {"field": "value", "type": "quantitative"}, "color": {"datum": "NOAA seasonal mean"}}}
]},
{"width": 425, "height": 257, "title": {"text": "Point 8: Inglefield Fjord"}, "layer": [
{"data": {"name": "hadley_dec"}, "transform": [{"filter": "datum.panel === 'h'"}], "mark": {"type": "rule", "strokeWidth": 13, "strokeCap": "butt"}, "encoding": {
"x": {"field": "start", "type": "quantitative", "scale": {"domain": [1969, 2021], "nice": false, "zero": false}, "axis": {"values": [1970, 1980, 1990, 2000, 2010, 2020], "format": "d", "labelPadding": 14, "title": null}},
"x2": {"field": "end"},
"y": {"field": "value", "type": "quantitative", "scale": {"domain": [-5, 105], "nice": false, "zero": false}, "axis": {"values": [0, 25, 50, 75, 100], "labels": false, "title": "(h)", "titleAngle": 0, "titleX": -47, "titleY": -22, "titleAlign": "center", "titleBaseline": "middle"}},
"color": {"datum": "Hadley-OI decadal seasonal mean"}}},
{"data": {"name": "noaa_dec"}, "transform": [{"filter": "datum.panel === 'h'"}], "mark": {"type": "rule", "strokeWidth": 13, "strokeCap": "butt"}, "encoding": {"x": {"field": "start", "type": "quantitative"}, "x2": {"field": "end"}, "y": {"field": "value", "type": "quantitative"}, "color": {"datum": "NOAA decadal seasonal mean"}}},
{"data": {"name": "hadley"}, "transform": [{"filter": "datum.panel === 'h'"}], "mark": {"type": "line", "strokeWidth": 2.5}, "encoding": {"x": {"field": "year", "type": "quantitative"}, "y": {"field": "value", "type": "quantitative"}, "color": {"datum": "Hadley-OI seasonal mean"}}},
{"data": {"name": "noaa"}, "transform": [{"filter": "datum.panel === 'h'"}], "mark": {"type": "line", "strokeWidth": 2.5}, "encoding": {"x": {"field": "year", "type": "quantitative"}, "y": {"field": "value", "type": "quantitative"}, "color": {"datum": "NOAA seasonal mean"}}}
]}
],
"config": {
"font": "DejaVu Sans",
"view": {"stroke": "black", "strokeWidth": 1.5},
"axis": {"grid": true, "gridColor": "#d4d4d4", "gridWidth": 1.5, "domain": false, "tickColor": "black", "tickWidth": 1.5, "tickSize": 7, "labelFontSize": 23, "labelColor": "black", "labelFont": "DejaVu Sans", "labelPadding": 11, "titleFontSize": 22, "titleFontWeight": "normal", "titleColor": "black", "titleFont": "DejaVu Sans"},
"title": {"fontSize": 24, "fontWeight": "normal", "color": "black", "font": "DejaVu Sans", "frame": "group", "anchor": "middle", "offset": 0, "dy": 26, "baseline": "bottom"}
}
}
